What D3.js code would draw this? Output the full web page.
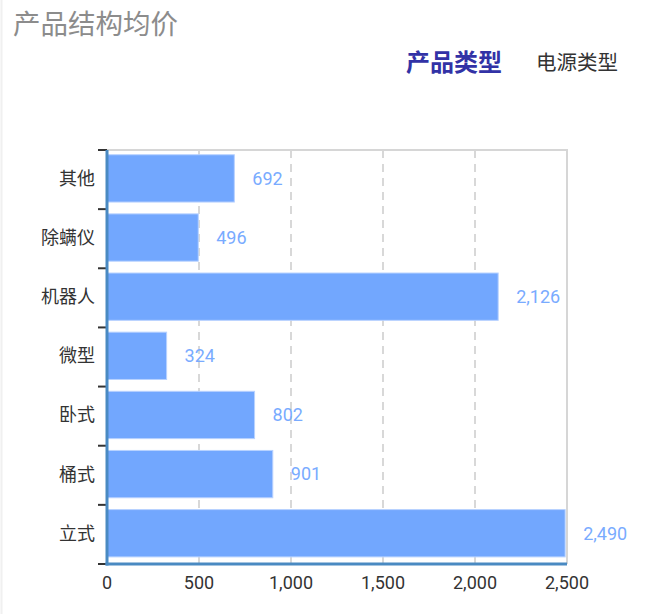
<!DOCTYPE html>
<html><head><meta charset="utf-8">
<script src="https://cdn.jsdelivr.net/npm/d3@7"></script>
<style>
html,body{margin:0;padding:0;background:#fff;}
svg{display:block;font-family:Roboto,"Noto Sans CJK SC",sans-serif;}
</style></head>
<body>
<script>
const categories = ["其他","除螨仪","机器人","微型","卧式","桶式","立式"];
const values = [692, 496, 2126, 324, 802, 901, 2490];
const xTicks = [0, 500, 1000, 1500, 2000, 2500];
const title = "产品结构均价";
const tabs = ["产品类型", "电源类型"];

const W = 650, H = 614;
const svg = d3.select("body").append("svg").attr("width", W).attr("height", H);

const L = 107, R = 567, T = 150, B = 564;
const x = d3.scaleLinear().domain([0, 2500]).range([L, R]);
const y = d3.scaleBand().domain(categories).range([T, B]).paddingInner(0.2).paddingOuter(0.1).align(0.4);

// faint left page edge
svg.append("line").attr("x1",1.5).attr("x2",1.5).attr("y1",0).attr("y2",H).attr("stroke","#f0f0f0").attr("stroke-width",2);

// title
svg.append("text").attr("x",13).attr("y",34).attr("font-family","'Noto Sans CJK SC'")
  .attr("font-size",27.5).attr("fill","#8c8c8c").text(title);

// tabs
svg.append("text").attr("x",406).attr("y",71).attr("font-family","'Noto Sans CJK SC'")
  .attr("font-size",24).attr("font-weight","bold").attr("fill","#3232a6").text(tabs[0]);
svg.append("text").attr("x",536).attr("y",70).attr("font-family","'Noto Sans CJK SC'")
  .attr("font-size",20.5).attr("fill","#333").text(tabs[1]);

// grid
svg.append("g").selectAll("line").data(xTicks.slice(1, -1)).join("line")
  .attr("x1", d => x(d)).attr("x2", d => x(d)).attr("y1", T).attr("y2", B)
  .attr("stroke", "#cccccc").attr("stroke-width", 1.5).attr("stroke-dasharray", "8,6");

// top & right border
svg.append("path").attr("d", `M${L},${T}H${R}V${B}`).attr("fill","none")
  .attr("stroke","#d6d6d6").attr("stroke-width",2);

// bars
svg.append("g").selectAll("rect").data(values).join("rect")
  .attr("x", x(0)).attr("y", (d,i) => y(categories[i]))
  .attr("width", d => x(d) - x(0)).attr("height", y.bandwidth())
  .attr("fill", "#72a7fe").attr("stroke", "#b8d2ff").attr("stroke-width", 1);

// value labels
svg.append("g").selectAll("text").data(values).join("text")
  .attr("x", d => x(d) + 18).attr("y", (d,i) => y(categories[i]) + y.bandwidth()/2)
  .attr("dy", "0.35em").attr("font-size", 18).attr("fill", "#79abff")
  .text(d => d3.format(",")(d));

// y axis line & ticks
const step = y.step();
svg.append("g").selectAll("line").data(d3.range(categories.length + 1)).join("line")
  .attr("x1", L - 9).attr("x2", L).attr("y1", i => T + i*step).attr("y2", i => T + i*step)
  .attr("stroke", "#333").attr("stroke-width", 2);
svg.append("line").attr("x1", L).attr("x2", L).attr("y1", T).attr("y2", B + 1.5)
  .attr("stroke", "#4a8ac2").attr("stroke-width", 3);
svg.append("g").selectAll("text").data(categories).join("text")
  .attr("x", 95).attr("y", d => y(d) + y.bandwidth()/2).attr("dy", "0.36em")
  .attr("text-anchor", "end").attr("font-family","'Noto Sans CJK SC'")
  .attr("font-size", 18).attr("fill", "#333").text(d => d);

// x axis
svg.append("line").attr("x1", L - 1.5).attr("x2", R).attr("y1", B).attr("y2", B)
  .attr("stroke", "#4a8ac2").attr("stroke-width", 3);
svg.append("g").selectAll("text").data(xTicks).join("text")
  .attr("x", d => x(d)).attr("y", 589).attr("text-anchor", "middle")
  .attr("font-size", 18).attr("fill", "#333").text(d => d3.format(",")(d));
</script>
</body></html>
